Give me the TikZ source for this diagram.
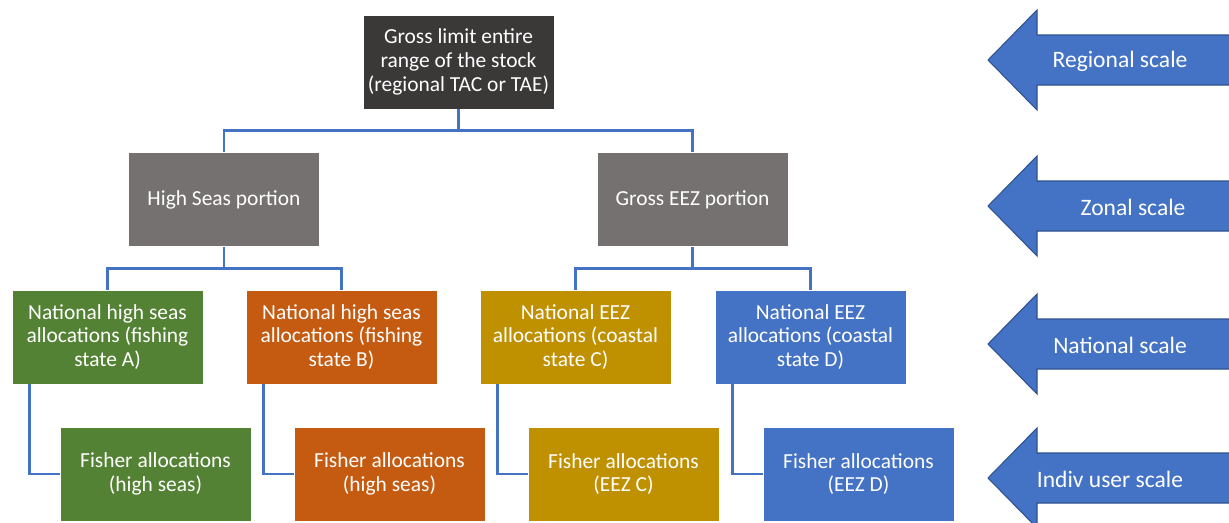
\documentclass[tikz,border=0pt]{standalone}
\usepackage{fontspec}
\setmainfont{Carlito}
\usepackage{tikz}
\usetikzlibrary{positioning}

\definecolor{topgray}{HTML}{3B3838}
\definecolor{midgray}{HTML}{767171}
\definecolor{hsgreen}{HTML}{548235}
\definecolor{hsorange}{HTML}{C55A11}
\definecolor{eezgold}{HTML}{BF9000}
\definecolor{eezblue}{HTML}{4472C4}
\definecolor{arrowedge}{HTML}{2F528F}

\begin{document}
\begin{tikzpicture}[
    x=0.02cm, y=-0.02cm,
    font=\fontsize{12.2}{13.6}\selectfont,
    box/.style={rectangle, draw=white, line width=0.3pt, minimum width=3.82cm, minimum height=1.88cm,
                align=center, text=white, inner sep=2pt},
    topbox/.style={box, fill=topgray},
    zonebox/.style={box, fill=midgray},
    link/.style={eezblue, line width=1.5pt},
    scalearrow/.style={fill=eezblue, draw=arrowedge, line width=0.6pt},
    scalelbl/.style={text=white, font=\fontsize{13.4}{15}\selectfont}
]
\useasboundingbox (0,0) rectangle (1229,522);

% ---- Regional level ----
\node[topbox] (gross) at (458.5,62) {Gross limit entire\\range of the stock\\(regional TAC or TAE)};

% ---- Zonal level ----
\node[zonebox] (hs) at (224,199.5) {High Seas portion};
\node[zonebox] (eez) at (692.5,199.5) {Gross EEZ portion};
\draw[link] (gross.south) -- ++(0,21) -| (hs.north);
\draw[link] (gross.south) -- ++(0,21) -| (eez.north);

% ---- National level ----
\node[box, fill=hsgreen] (natA) at (107.5,337) {National high seas\\allocations (fishing\\state A)};
\node[box, fill=hsorange] (natB) at (341.5,337) {National high seas\\allocations (fishing\\state B)};
\node[box, fill=eezgold] (natC) at (575.5,337) {National EEZ\\allocations (coastal\\state C)};
\node[box, fill=eezblue] (natD) at (810.5,337) {National EEZ\\allocations (coastal\\state D)};
\draw[link] (hs.south) -- ++(0,22) -| (natA.north);
\draw[link] (hs.south) -- ++(0,22) -| (natB.north);
\draw[link] (eez.south) -- ++(0,22) -| (natC.north);
\draw[link] (eez.south) -- ++(0,22) -| (natD.north);

% ---- Individual user level ----
\node[box, fill=hsgreen] (fishA) at (155.5,474) {Fisher allocations\\(high seas)};
\node[box, fill=hsorange] (fishB) at (389.5,474) {Fisher allocations\\(high seas)};
\node[box, fill=eezgold] (fishC) at (623.5,474) {Fisher allocations\\(EEZ C)};
\node[box, fill=eezblue] (fishD) at (858.5,474) {Fisher allocations\\(EEZ D)};
\foreach \n in {A,B,C,D}
  \draw[link] ([xshift=0.36cm]nat\n.south west) |- (fish\n.west);

% ---- Scale arrows ----
\foreach \yc/\tx/\nm/\lbl in {60/1120/regional/Regional scale, 206/1133/zonal/Zonal scale,
                              344/1120/national/National scale, 478/1110/indiv/Indiv user scale}{
  \path[scalearrow] (988,\yc) -- (1037,\yc-50) -- (1037,\yc-25) -- (1260,\yc-25)
        -- (1260,\yc+25) -- (1037,\yc+25) -- (1037,\yc+50) -- cycle;
  \node[scalelbl] (\nm) at (\tx,\yc+1) {\lbl};
}

\end{tikzpicture}
\end{document}
